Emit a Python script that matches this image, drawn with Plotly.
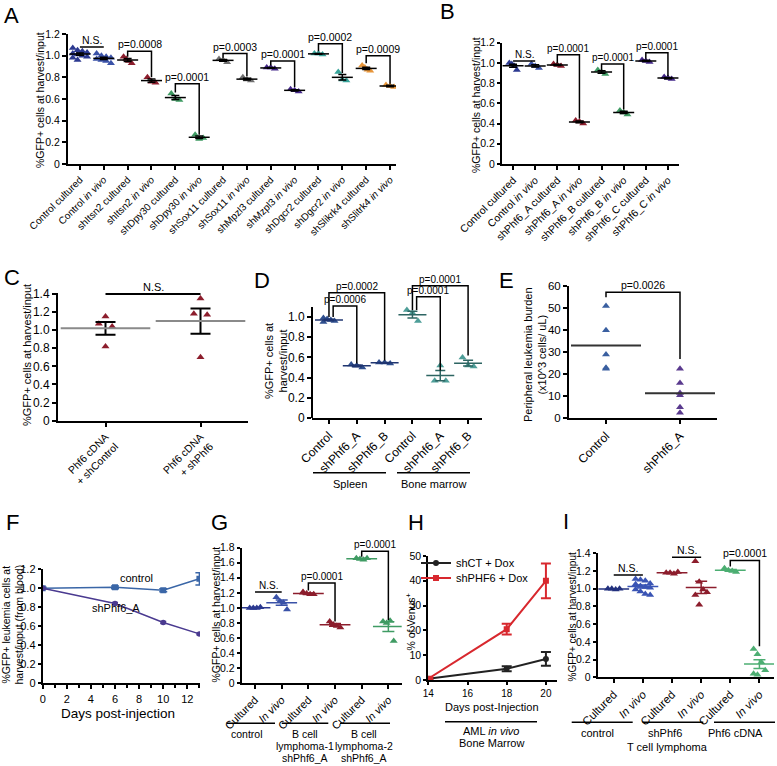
import numpy as np
import plotly.graph_objects as go

W, H = 777, 766
FONT = "Liberation Sans, Arial, Helvetica, sans-serif"

# ================= DATA =================
# Panel A
a_labels = ["Control cultured", "Control <i>in vivo</i>", "shItsn2 cultured", "shItsn2 <i>in vivo</i>",
            "shDpy30 cultured", "shDpy30 <i>in vivo</i>", "shSox11 cultured", "shSox11 <i>in vivo</i>",
            "shMpzl3 cultured", "shMzpl3 <i>in vivo</i>", "shDgcr2 cultured", "shDgcr2 <i>in vivo</i>",
            "shSlikrk4 cultured", "shSlitrk4 <i>in vivo</i>"]
a_values = [
    [1.07, 1.05, 1.04, 1.03, 1.02, 1.01, 1.00, 0.99, 0.98, 0.96],
    [1.02, 1.00, 0.99, 0.98, 0.97, 0.96, 0.95, 0.93],
    [0.99, 0.97, 0.95, 0.93],
    [0.80, 0.76, 0.75],
    [0.65, 0.60, 0.59],
    [0.27, 0.23, 0.24],
    [0.97, 0.96, 0.94],
    [0.80, 0.78, 0.77],
    [0.89, 0.89, 0.88],
    [0.69, 0.68, 0.67],
    [1.02, 1.02, 1.01],
    [0.85, 0.78, 0.77],
    [0.91, 0.89, 0.87, 0.86],
    [0.73, 0.72, 0.71],
]
a_pvals = ["N.S.", "p=0.0008", "p=0.0001", "p=0.0003", "p=0.0001", "p=0.0002", "p=0.0009"]

# Panel B
b_labels = ["Control cultured", "Control <i>in vivo</i>", "shPhf6_A cultured", "shPhf6_A <i>in vivo</i>",
            "shPhf6_B cultured", "shPhf6_B <i>in vivo</i>", "shPhf6_C cultured", "shPhf6_C <i>in vivo</i>"]
b_values = [
    [1.00, 0.99, 0.97, 0.93],
    [0.99, 0.97, 0.95],
    [0.99, 0.98, 0.97],
    [0.43, 0.42, 0.40],
    [0.93, 0.91, 0.89],
    [0.53, 0.51, 0.49],
    [1.03, 1.02, 1.01],
    [0.86, 0.85, 0.84],
]
b_pvals = ["N.S.", "p=0.0001", "p=0.0001", "p=0.0001"]

# Panel C
c_labels = ["Phf6 cDNA<br>+ shControl", "Phf6 cDNA<br>+ shPhf6"]
c_values = [[1.15, 1.07, 1.04, 0.82], [1.35, 1.18, 1.17, 0.70]]
c_pval = "N.S."

# Panel D
d_labels = ["Control", "shPhf6_A", "shPhf6_B", "Control", "shPhf6_A", "shPhf6_B"]
d_groups = ["Spleen", "Bone marrow"]
d_values = [
    [0.99, 0.98, 0.97, 0.96, 0.95],
    [0.53, 0.52, 0.50],
    [0.55, 0.55, 0.54],
    [1.07, 1.04, 0.96],
    [0.37, 0.52, 0.37],
    [0.60, 0.52, 0.51],
]
d_pvals = ["p=0.0002", "p=0.0006", "p=0.0001", "p=0.0001"]

# Panel E
e_labels = ["Control", "shPhf6_A"]
e_values = [[51, 40, 29, 23, 22.5], [22.5, 16, 11.5, 10.5, 5, 2.5]]
e_pval = "p=0.0026"

# Panel F
f_days = [0, 6, 10, 13]
f_control = [1.00, 1.01, 0.98, 1.10]
f_control_err = [0.01, 0.015, 0.015, 0.065]
f_sh = [1.00, 0.84, 0.64, 0.52]
f_sh_err = [0.01, 0.01, 0.01, 0.01]

# Panel G
g_labels = ["Cultured", "<i>In vivo</i>", "Cultured", "<i>In vivo</i>", "Cultured", "<i>In vivo</i>"]
g_groups = [["control"], ["B cell", "lymphoma-1", "shPhf6_A"], ["B cell", "lymphoma-2", "shPhf6_A"]]
g_values = [
    [1.00, 1.00, 1.00, 1.01],
    [1.14, 1.09, 1.07, 0.98],
    [1.21, 1.19, 1.18, 1.18, 1.20],
    [0.82, 0.78, 0.76, 0.74],
    [1.66, 1.65, 1.64, 1.66],
    [0.82, 0.80, 0.83, 0.56],
]
g_pvals = ["N.S.", "p=0.0001", "p=0.0001"]

# Panel H
h_days = [14, 18, 20]
h_ct = [0.5, 4.5, 8.5]
h_ct_err = [0.3, 1.0, 2.8]
h_phf6 = [0.5, 20.5, 40.0]
h_phf6_err = [0.3, 2.2, 7.0]
h_names = ["shCT + Dox", "shPHF6 + Dox"]

# Panel I
i_labels = ["Cultured", "<i>In vivo</i>", "Cultured", "<i>In vivo</i>", "Cultured", "<i>In vivo</i>"]
i_groups = ["control", "shPhf6", "Phf6 cDNA"]
i_values = [
    [1.00, 1.00, 0.99, 1.00],
    [1.11, 1.10, 1.09, 1.06, 1.05, 1.03, 1.02, 1.01, 0.99, 0.97, 0.94, 0.93],
    [1.18, 1.18, 1.17, 1.19],
    [1.31, 1.08, 0.99, 0.96, 0.93, 0.82],
    [1.23, 1.21, 1.20, 1.19, 1.22],
    [0.32, 0.26, 0.17, 0.08, 0.04, 0.03],
]
i_pvals = ["N.S.", "N.S.", "p=0.0001"]

# ================= STYLES =================
NAVY, BLUE, RED, GREEN = "#2B3990", "#3A52A8", "#8C1D2C", "#3F9B63"
GRAY, PURPLE, TEAL, ORANGE = "#707070", "#44288A", "#38A49A", "#E8963A"
a_colors = [NAVY, BLUE, RED, RED, GREEN, GREEN, GRAY, GRAY, PURPLE, PURPLE, TEAL, TEAL, ORANGE, ORANGE]
b_colors = [NAVY, BLUE, RED, RED, GREEN, GREEN, PURPLE, PURPLE]
d_colors = ["#2F4F8F"] * 3 + ["#4E9E98"] * 3
d_mean_colors = ["#1F3570"] * 3 + ["#2D6562"] * 3
g_colors = [NAVY, BLUE, RED, RED, GREEN, GREEN]
i_colors = ["#22307E", "#3A54B4", RED, RED, "#4CAE72", "#4CAE72"]


def px(x):
    return x / W


def py(y):
    return 1 - y / H


def xdom(x0, x1):
    return [px(x0), px(x1)]


def ydom(ytop, ybot):
    return [py(ybot), py(ytop)]


fig = go.Figure()
annotations = []
shapes = []


def refs(k):
    return ("x" if k == 1 else f"x{k}"), ("y" if k == 1 else f"y{k}")


def offsets_for(n, width):
    if n == 1:
        return np.zeros(1)
    m = n if n <= 4 else 4
    step = 2 * width / (m - 1)
    return np.array([((k % m) - (m - 1) / 2) * step for k in range(n)])


def dot_group(k, x, vals, color, msize=7, width=0.18, mean_w=16, mean_color="black",
              err_color="black", cap=4, offsets=None, show_err=True, mean_lw=1.5, err_th=1.5):
    xa, ya = refs(k)
    vals = np.asarray(vals, float)
    n = len(vals)
    offs = offsets_for(n, width) if offsets is None else np.asarray(offsets)
    fig.add_trace(go.Scatter(x=x + offs, y=vals, mode="markers", xaxis=xa, yaxis=ya,
                             marker=dict(symbol="triangle-up", size=msize, color=color, line=dict(width=0)),
                             showlegend=False, hoverinfo="skip"))
    m = vals.mean()
    sem = vals.std(ddof=1) / np.sqrt(n)
    fig.add_trace(go.Scatter(x=[x], y=[m], mode="markers", xaxis=xa, yaxis=ya,
                             marker=dict(symbol="line-ew", size=mean_w, color=mean_color,
                                         line=dict(color=mean_color, width=mean_lw)),
                             error_y=dict(type="data", array=[sem], color=err_color, thickness=err_th,
                                          width=cap, visible=show_err),
                             showlegend=False, hoverinfo="skip"))


def bracket(k, x0, x1, ytop, yl, yr, text, size=10, lw=1.5):
    xa, ya = refs(k)
    if yl is None:
        xs, ys = [x0, x1], [ytop, ytop]
    else:
        xs, ys = [x0, x0, x1, x1], [yl, ytop, ytop, yr]
    fig.add_trace(go.Scatter(x=xs, y=ys, mode="lines", xaxis=xa, yaxis=ya,
                             line=dict(color="black", width=lw), showlegend=False, hoverinfo="skip"))
    annotations.append(dict(text=text, x=(x0 + x1) / 2, y=ytop, xref=xa, yref=ya, showarrow=False,
                            xanchor="center", yanchor="bottom", font=dict(size=size), yshift=-1))


def text_px(text, xc, yc, size, angle=0, xanchor="center", **kw):
    d = dict(text=text, x=px(xc), y=py(yc), xref="paper", yref="paper", showarrow=False,
             xanchor=xanchor, yanchor="middle", font=dict(size=size), textangle=angle)
    d.update(kw)
    annotations.append(d)


def hline_px(x0, x1, y, lw=1.5):
    shapes.append(dict(type="line", xref="paper", yref="paper", x0=px(x0), x1=px(x1), y0=py(y), y1=py(y),
                       line=dict(color="black", width=lw)))


def axis(dom, rng, size=10, **kw):
    d = dict(domain=dom, range=rng, showline=True, linecolor="black", linewidth=2, ticks="outside",
             ticklen=4, tickwidth=1.5, tickcolor="black", showgrid=False, zeroline=False,
             fixedrange=True, automargin=False, tickfont=dict(size=size, family=FONT, color="black"))
    d.update(kw)
    return d


def num_ticks(vals, fmt):
    return dict(tickmode="array", tickvals=vals, ticktext=[("0" if v == 0 else fmt.format(v)) for v in vals])


layout_axes = {}

# ---------------- Panel A ----------------
for i, (vals, col) in enumerate(zip(a_values, a_colors)):
    dot_group(1, i, vals, col, msize=7, width=0.3 if len(vals) > 4 else 0.17, mean_w=15)
a_br = [(0, 1, 1.08, None, None), (2, 3, 1.04, 0.99, 0.80), (4, 5, 0.74, 0.66, 0.27),
        (6, 7, 1.02, 0.98, 0.81), (8, 9, 0.95, 0.91, 0.71), (10, 11, 1.11, 1.04, 0.84),
        (12, 13, 1.00, 0.93, 0.74)]
for (x0, x1, yt, yl, yr), t in zip(a_br, a_pvals):
    bracket(1, x0, x1, yt, yl, yr, t, size=10.5)
yt_a = [0, 0.2, 0.4, 0.6, 0.8, 1.0, 1.2]
layout_axes["xaxis"] = axis(xdom(68, 396), [-0.5, 13.25], size=10, anchor="y", tickangle=-45,
                            tickmode="array", tickvals=list(range(len(a_labels))), ticktext=a_labels)
layout_axes["yaxis"] = axis(ydom(34, 164), [0, 1.2], size=10.5, anchor="x", **num_ticks(yt_a, "{:.1f}"))
text_px("%GFP+ cells at harvest/input", 40, 100, 10.5, angle=-90)

# ---------------- Panel B ----------------
for i, (vals, col) in enumerate(zip(b_values, b_colors)):
    dot_group(2, i, vals, col, msize=7, width=0.17, mean_w=15)
b_br = [(0, 1, 1.02, None, None), (2, 3, 1.08, 1.0, 0.45), (4, 5, 0.99, 0.93, 0.54), (6, 7, 1.10, 1.04, 0.87)]
for (x0, x1, yt, yl, yr), t in zip(b_br, b_pvals):
    bracket(2, x0, x1, yt, yl, yr, t, size=10)
layout_axes["xaxis2"] = axis(xdom(502, 679), [-0.5, 7.5], size=10.5, anchor="y2", tickangle=-45,
                             tickmode="array", tickvals=list(range(len(b_labels))), ticktext=b_labels)
layout_axes["yaxis2"] = axis(ydom(42.7, 164), [0, 1.2], size=10.5, anchor="x2", ticklen=3,
                             **num_ticks(yt_a, "{:.1f}"))
text_px("%GFP+ cells at harvest/input", 476, 105, 10.5, angle=-90)

# ---------------- Panel C ----------------
c_offs = [[0, -0.07, 0.07, 0], [0, -0.07, 0.07, 0]]
for i, vals in enumerate(c_values):
    dot_group(3, i, vals, RED, msize=7, offsets=c_offs[i], mean_w=64, mean_color="#8A8A8A",
              err_color="black", cap=10, mean_lw=2, err_th=2)
bracket(3, 0, 1, 1.4, None, None, c_pval, size=11, lw=2)
layout_axes["xaxis3"] = axis(xdom(58, 248), [-0.5, 1.5], size=10.5, anchor="y3", tickangle=-45,
                             tickmode="array", tickvals=[0, 1], ticktext=c_labels)
layout_axes["yaxis3"] = axis(ydom(293, 420.7), [0, 1.41], size=12, anchor="x3",
                             **num_ticks([0, 0.2, 0.4, 0.6, 0.8, 1.0, 1.2, 1.4], "{:.1f}"))
text_px("%GFP+ cells at harvest/input", 27, 355, 11, angle=-90)

# ---------------- Panel D ----------------
for i, (vals, col, mc) in enumerate(zip(d_values, d_colors, d_mean_colors)):
    dot_group(4, i, vals, col, msize=7, width=0.2, mean_w=20, mean_color=mc, err_color=mc, cap=5)
d_br = [(0.0, 2, 1.24, 1.0, 0.57), (0.15, 1, 1.11, 1.0, 0.54), (3.0, 5, 1.31, 1.07, 0.62), (3.15, 4, 1.20, 1.07, 0.47)]
for (x0, x1, yt, yl, yr), t in zip(d_br, d_pvals):
    bracket(4, x0, x1, yt, yl, yr, t, size=10)
layout_axes["xaxis4"] = axis(xdom(312, 482), [-0.61, 5.5], size=12, anchor="y4", tickangle=-45,
                             tickmode="array", tickvals=list(range(6)), ticktext=d_labels)
layout_axes["yaxis4"] = axis(ydom(281.7, 418), [0, 1.35], size=12, anchor="x4", showline=False,
                             **num_ticks([0, 0.2, 0.4, 0.6, 0.8, 1.0], "{:.1f}"))
shapes.append(dict(type="line", xref="paper", yref="y4", x0=px(312), x1=px(312), y0=0, y1=1.1,
                   line=dict(color="black", width=2)))
text_px("%GFP+ cells at<br>harvest/input", 276, 361, 11, angle=-90)
hline_px(313, 386, 472.7)
hline_px(397, 470, 472.7)
text_px(d_groups[0], 350, 484, 11)
text_px(d_groups[1], 434, 484, 11)

# ---------------- Panel E ----------------
e_colors = ["#3A5FA0", "#5A3A8E"]
for i, vals in enumerate(e_values):
    dot_group(5, i, vals, e_colors[i], msize=7, offsets=[0] * len(vals), mean_w=50,
              mean_color="#333333", show_err=False, mean_lw=2)
bracket(5, 0, 1, 57.3, 55, 27, e_pval, size=10.5)
layout_axes["xaxis5"] = axis(xdom(569, 717), [-0.5, 1.5], size=12, anchor="y5", tickangle=-45,
                             tickmode="array", tickvals=[0, 1], ticktext=e_labels)
layout_axes["yaxis5"] = axis(ydom(286.3, 418.3), [0, 60], size=11.5, anchor="x5",
                             tickmode="array", tickvals=[0, 10, 20, 30, 40, 50, 60])
text_px("Peripheral leukemia burden<br>(x10^3 cells/ uL)", 535, 355, 11, angle=-90)

# ---------------- Panel F ----------------
fig.add_trace(go.Scatter(x=f_days, y=f_control, mode="lines+markers", xaxis="x6", yaxis="y6",
                         line=dict(color="#3A66A7", width=1.5),
                         marker=dict(symbol="square", size=6, color="#3A66A7"),
                         error_y=dict(type="data", array=f_control_err, color="#3A66A7", thickness=1.5, width=4),
                         showlegend=False, hoverinfo="skip"))
fig.add_trace(go.Scatter(x=f_days, y=f_sh, mode="lines+markers", xaxis="x6", yaxis="y6",
                         line=dict(color="#4A3A90", width=1.5),
                         marker=dict(symbol="circle", size=5.5, color="#4A3A90"),
                         error_y=dict(type="data", array=f_sh_err, color="#4A3A90", thickness=1.5, width=3),
                         showlegend=False, hoverinfo="skip"))
annotations.append(dict(text="control", x=7.75, y=1.105, xref="x6", yref="y6", showarrow=False,
                        font=dict(size=11)))
annotations.append(dict(text="shPhf6_A", x=6.1, y=0.79, xref="x6", yref="y6", showarrow=False,
                        font=dict(size=11)))
layout_axes["xaxis6"] = axis(xdom(42.7, 200), [0, 13.05], size=11, anchor="y6", tickmode="linear",
                             tick0=0, dtick=2, ticklen=4,
                             minor=dict(dtick=1, ticklen=3, ticks="outside", tickwidth=1.5, tickcolor="black"))
layout_axes["yaxis6"] = axis(ydom(569.3, 683.3), [0, 1.2], size=11, anchor="x6", ticklen=3,
                             **num_ticks(yt_a, "{:.1f}"))
text_px("%GFP+ leukemia cells at<br>harvest/input (from blood)", 12.5, 625, 10.5, angle=-90)
text_px("Days post-injection", 118, 713, 13.5)

# ---------------- Panel G ----------------
for i, (vals, col) in enumerate(zip(g_values, g_colors)):
    dot_group(7, i, vals, col, msize=7, width=0.2, mean_w=22, mean_color=col, err_color=col, cap=6)
g_br = [(0, 1, 1.21, None, None), (2, 3, 1.33, 1.23, 0.82), (4, 5, 1.75, 1.68, 0.84)]
for (x0, x1, yt, yl, yr), t in zip(g_br, g_pvals):
    bracket(7, x0, x1, yt, yl, yr, t, size=10)
layout_axes["xaxis7"] = axis(xdom(241.7, 401.7), [-0.5, 5.5], size=11, anchor="y7", tickangle=-45,
                             tickmode="array", tickvals=list(range(6)), ticktext=g_labels)
layout_axes["yaxis7"] = axis(ydom(547.6, 683.3), [0, 1.8], size=10.5, anchor="x7", ticklen=3,
                             **num_ticks([0, 0.2, 0.4, 0.6, 0.8, 1.0, 1.2, 1.4, 1.6, 1.8], "{:.1f}"))
text_px("%GFP+ cells at harvest/input", 215.5, 615, 10.5, angle=-90)
for (x0, x1, xc), lines in zip([(226.7, 275, 247), (281.7, 328.3, 305), (340, 390, 364)], g_groups):
    hline_px(x0, x1, 723.3)
    for j, t in enumerate(lines):
        text_px(t, xc, 733.5 + 12 * j, 10.5)

# ---------------- Panel H ----------------
fig.add_trace(go.Scatter(x=h_days, y=h_ct, mode="lines+markers", xaxis="x8", yaxis="y8", name=h_names[0],
                         line=dict(color="#222222", width=2),
                         marker=dict(symbol="circle", size=6, color="#222222"),
                         error_y=dict(type="data", array=h_ct_err, color="#222222", thickness=2, width=5),
                         hoverinfo="skip", legend="legend"))
fig.add_trace(go.Scatter(x=h_days, y=h_phf6, mode="lines+markers", xaxis="x8", yaxis="y8", name=h_names[1],
                         line=dict(color="#D8282E", width=2),
                         marker=dict(symbol="square", size=6, color="#D8282E"),
                         error_y=dict(type="data", array=h_phf6_err, color="#D8282E", thickness=2, width=5),
                         hoverinfo="skip", legend="legend2"))
layout_axes["xaxis8"] = axis(xdom(428.3, 556.7), [14, 20.55], size=10, anchor="y8", ticklen=3,
                             tickmode="array", tickvals=[14, 16, 18, 20])
layout_axes["yaxis8"] = axis(ydom(556, 680), [0, 50], size=10.5, anchor="x8", ticklen=3,
                             tickmode="array", tickvals=[0, 10, 20, 30, 40, 50])
text_px("% of Venus<sup>+</sup>", 409.5, 622, 10.5, angle=-90)
text_px("Days post-Injection", 492, 706.5, 11)
hline_px(445, 537, 721.7)
text_px("AML <i>in vivo</i>", 491, 731, 11)
text_px("Bone Marrow", 491, 742.5, 11)

# ---------------- Panel I ----------------
for i, (vals, col) in enumerate(zip(i_values, i_colors)):
    dot_group(9, i, vals, col, msize=7, width=0.25 if len(vals) > 6 else 0.2, mean_w=22,
              mean_color=col, err_color=col, cap=6)
i_br = [(0, 1, 1.155, None, None), (2, 3, 1.355, None, None), (4, 5, 1.32, 1.25, 0.35)]
for (x0, x1, yt, yl, yr), t in zip(i_br, i_pvals):
    bracket(9, x0, x1, yt, yl, yr, t, size=10.5)
layout_axes["xaxis9"] = axis(xdom(597.7, 774), [-0.55, 5.5], size=11.5, anchor="y9", tickangle=-45,
                             tickmode="array", tickvals=list(range(6)), ticktext=i_labels)
layout_axes["yaxis9"] = axis(ydom(553.3, 677.3), [0, 1.4], size=10.5, anchor="x9", ticklen=3,
                             **num_ticks([0, 0.2, 0.4, 0.6, 0.8, 1.0, 1.2, 1.4], "{:.1f}"))
text_px("%GFP+ cells at harvest/input", 571.5, 617, 10, angle=-90)
for (x0, x1, xc), t in zip([(571.7, 632.7, 597), (642.7, 703.3, 665), (714, 775, 735)], i_groups):
    hline_px(x0, x1, 722.3)
    text_px(t, xc, 732.5, 11)
text_px("T cell lymphoma", 667, 747, 11)

# ---------------- Panel letters ----------------
for letter, x, y in [("A", 2, 15.5), ("B", 438, 12), ("C", 2, 278), ("D", 252, 280), ("E", 497, 280),
                     ("F", 4, 522.5), ("G", 209, 522.5), ("H", 406, 522.5), ("I", 561, 521)]:
    text_px(letter, x, y, 22, xanchor="left")

leg_common = dict(xanchor="left", yanchor="middle", bgcolor="rgba(0,0,0,0)", borderwidth=0,
                  font=dict(size=11), tracegroupgap=0, itemwidth=30)
fig.update_layout(
    template="none",
    width=W, height=H, margin=dict(l=0, r=0, t=0, b=0, pad=0, autoexpand=False),
    paper_bgcolor="white", plot_bgcolor="white",
    font=dict(family=FONT, color="black", size=11),
    annotations=annotations, shapes=shapes,
    showlegend=True,
    legend=dict(x=px(416), y=py(563), **leg_common),
    legend2=dict(x=px(416), y=py(578), **leg_common),
    **layout_axes,
)

fig.write_html("out.html", config={"displayModeBar": False},
               post_script="document.body.style.margin='0px';document.body.style.overflow='hidden';")
